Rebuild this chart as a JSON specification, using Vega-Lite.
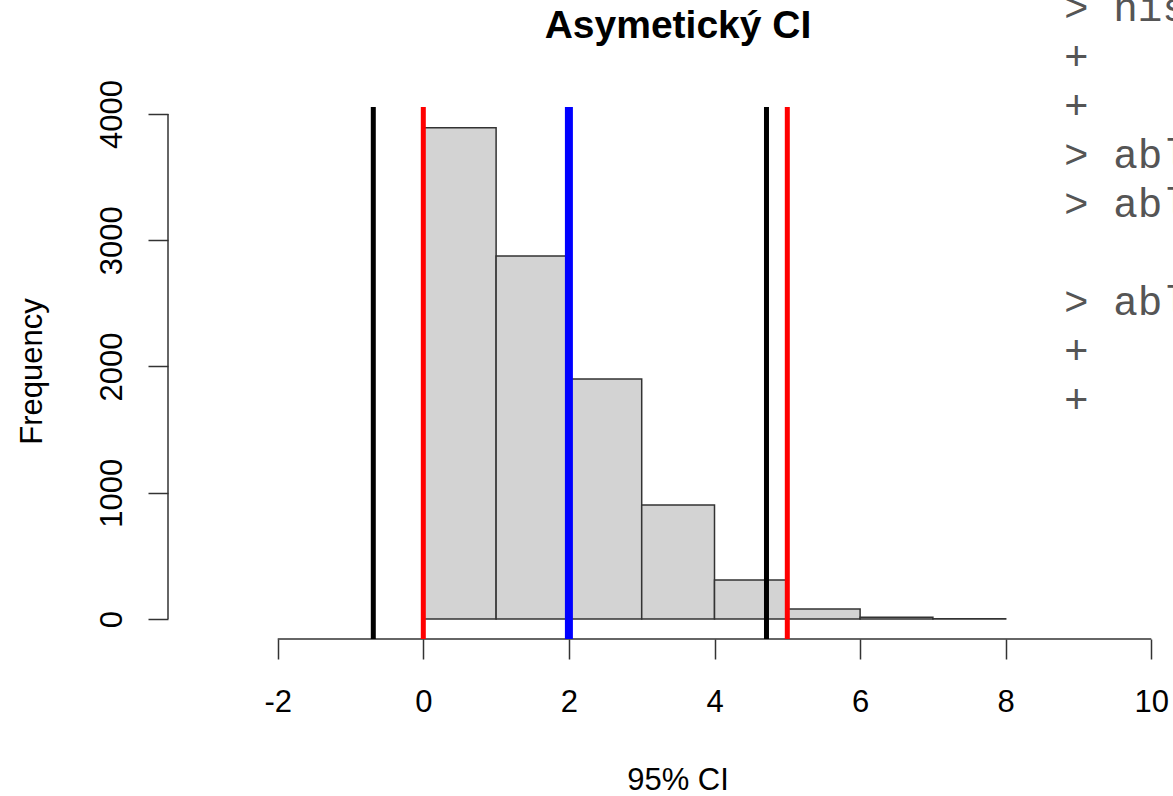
{
  "$schema": "https://vega.github.io/schema/vega-lite/v6.json",
  "width": 1005,
  "height": 532,
  "autosize": {"type": "none"},
  "padding": {"left": 168, "top": 107, "right": 0, "bottom": 157},
  "background": "white",
  "config": {"view": {"stroke": null}, "font": "Liberation Sans"},
  "title": {
    "text": "Asymetický CI",
    "font": "Liberation Sans",
    "fontSize": 39,
    "fontWeight": "bold",
    "color": "#000000",
    "anchor": "middle",
    "baseline": "alphabetic",
    "dx": 7.5,
    "dy": 99,
    "offset": 10
  },
  "datasets": {
    "bins": [
      {"bin_start": 0, "bin_end": 1, "count": 3892},
      {"bin_start": 1, "bin_end": 2, "count": 2875},
      {"bin_start": 2, "bin_end": 3, "count": 1901},
      {"bin_start": 3, "bin_end": 4, "count": 903},
      {"bin_start": 4, "bin_end": 5, "count": 309},
      {"bin_start": 5, "bin_end": 6, "count": 79},
      {"bin_start": 6, "bin_end": 7, "count": 13},
      {"bin_start": 7, "bin_end": 8, "count": 2}
    ],
    "normalCI": [
      {"bound": "lower", "x": -0.687},
      {"bound": "upper", "x": 4.714}
    ],
    "percentileCI": [
      {"bound": "lower", "x": 0},
      {"bound": "upper", "x": 5}
    ],
    "center": [
      {"stat": "mean", "x": 2}
    ],
    "xAxisLine": [
      {"x_from": -2, "x_to": 10}
    ],
    "yAxisLine": [
      {"y_from": 0, "y_to": 4000}
    ],
    "console": [
      {"line": 0, "text": "> his"},
      {"line": 1, "text": "+"},
      {"line": 2, "text": "+"},
      {"line": 3, "text": "> abl"},
      {"line": 4, "text": "> abl"},
      {"line": 6, "text": "> abl"},
      {"line": 7, "text": "+"},
      {"line": 8, "text": "+"}
    ]
  },
  "layer": [
    {
      "layer": [
        {
          "data": {"name": "xAxisLine"},
          "mark": {"type": "rule", "color": "#333333", "strokeWidth": 1.5},
          "encoding": {
            "x": {"field": "x_from", "type": "quantitative"},
            "x2": {"field": "x_to"},
            "y": {"datum": -158.4}
          }
        },
        {
          "data": {"name": "yAxisLine"},
          "mark": {"type": "rule", "color": "#333333", "strokeWidth": 1.5},
          "encoding": {
            "x": {"datum": -3.507},
            "y": {"field": "y_from", "type": "quantitative"},
            "y2": {"field": "y_to"}
          }
        },
        {
          "data": {"name": "bins"},
          "mark": {"type": "rect", "fill": "#D3D3D3", "stroke": "#333333", "strokeWidth": 1.5},
          "encoding": {
            "x": {
              "field": "bin_start",
              "type": "quantitative",
              "scale": {"domain": [-3.507, 10.298], "nice": false, "zero": false},
              "axis": {
                "values": [-2, 0, 2, 4, 6, 8, 10],
                "domain": false,
                "grid": false,
                "ticks": true,
                "tickSize": 20,
                "tickColor": "#333333",
                "tickWidth": 1.5,
                "labelExpr": "'' + datum.value",
                "labelFont": "Liberation Sans",
                "labelFontSize": 31,
                "labelColor": "#000000",
                "labelPadding": 52,
                "labelBaseline": "alphabetic",
                "labelAlign": "center",
                "labelFlush": false,
                "labelOverlap": false,
                "title": "95% CI",
                "titleFont": "Liberation Sans",
                "titleFontSize": 31,
                "titleFontWeight": "normal",
                "titleColor": "#000000",
                "titleBaseline": "alphabetic",
                "titleAlign": "center",
                "titleX": 509.5,
                "titleY": 150
              }
            },
            "x2": {"field": "bin_end"},
            "y": {
              "field": "count",
              "type": "quantitative",
              "scale": {"domain": [-158.4, 4055.4], "nice": false, "zero": false},
              "axis": {
                "values": [0, 1000, 2000, 3000, 4000],
                "domain": false,
                "grid": false,
                "ticks": true,
                "tickSize": 20,
                "tickColor": "#333333",
                "tickWidth": 1.5,
                "labelExpr": "'' + datum.value",
                "labelFont": "Liberation Sans",
                "labelFontSize": 31,
                "labelColor": "#000000",
                "labelAngle": 270,
                "labelAlign": "center",
                "labelBaseline": "alphabetic",
                "labelPadding": 27,
                "labelFlush": false,
                "labelOverlap": false,
                "title": "Frequency",
                "titleFont": "Liberation Sans",
                "titleFontSize": 31,
                "titleFontWeight": "normal",
                "titleColor": "#000000",
                "titleAngle": 270,
                "titleBaseline": "alphabetic",
                "titleAlign": "center",
                "titleX": -127,
                "titleY": 264
              }
            },
            "y2": {"datum": 0}
          }
        },
        {
          "data": {"name": "normalCI"},
          "mark": {"type": "rule", "color": "#000000", "strokeWidth": 5},
          "encoding": {"x": {"field": "x", "type": "quantitative"}}
        },
        {
          "data": {"name": "percentileCI"},
          "mark": {"type": "rule", "color": "#FF0000", "strokeWidth": 5},
          "encoding": {"x": {"field": "x", "type": "quantitative"}}
        },
        {
          "data": {"name": "center"},
          "mark": {"type": "rule", "color": "#0000FF", "strokeWidth": 8},
          "encoding": {"x": {"field": "x", "type": "quantitative"}}
        }
      ]
    },
    {
      "data": {"name": "console"},
      "mark": {
        "type": "text",
        "font": "Liberation Mono",
        "fontSize": 41,
        "color": "#555555",
        "align": "left",
        "baseline": "middle"
      },
      "encoding": {
        "x": {"datum": 8.8},
        "y": {
          "field": "line",
          "type": "quantitative",
          "scale": {"domain": [2, 12.857], "reverse": true, "nice": false, "zero": false},
          "axis": null
        },
        "text": {"field": "text"}
      }
    }
  ],
  "resolve": {"scale": {"y": "independent"}}
}
